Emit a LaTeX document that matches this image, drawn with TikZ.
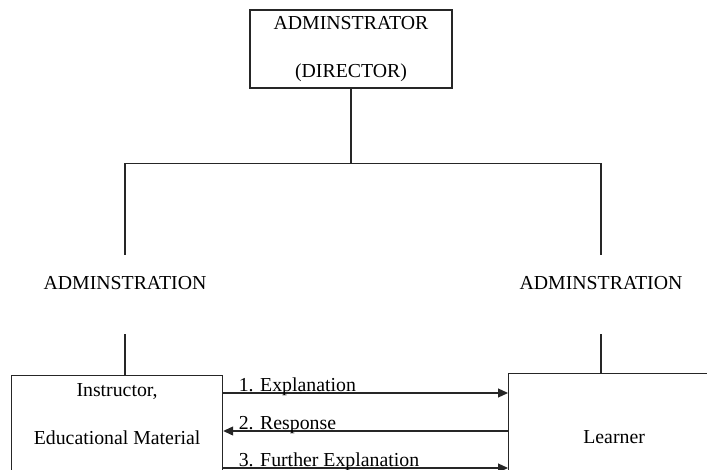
\documentclass[tikz,border=0pt]{standalone}
\usepackage{fontspec}
\setmainfont{Liberation Serif}
\usetikzlibrary{arrows.meta,calc}
\begin{document}
\begin{tikzpicture}[x=1pt,y=-1pt,
  every node/.style={font=\fontsize{19.8}{48}\selectfont},
  line/.style={draw=black!85,line width=1.2pt},
  boxnode/.style={line,rectangle,inner sep=0pt},
  lbl/.style={inner sep=0pt,text height=13.5pt,text depth=1pt},
  flow/.style={line,-{Triangle[length=10pt,width=9pt]}},
  flowtext/.style={inner sep=0pt,anchor=base west}]
\useasboundingbox (0,0) rectangle (707,470);
\clip (0,0) rectangle (707,470);

% administrator box
\node[boxnode,minimum width=202pt,minimum height=78pt,align=center] (top) at (351,49)
  {ADMINSTRATOR\\(DIRECTOR)};
\coordinate (j) at ([yshift=-75pt]top.south);

% the two administration branches
\node[lbl] (adl) at (125,283) {ADMINSTRATION};
\node[lbl] (adr) at (601,283) {ADMINSTRATION};

% lower boxes (they run past the lower edge)
\node[boxnode,anchor=north west,minimum width=211pt,minimum height=140pt] (lbox) at (11,375) {};
\node[align=center,inner sep=0pt] (ltext) at ($(lbox.north)+(0,39)$) {Instructor,\\Educational Material};
\node[boxnode,anchor=north west,minimum width=211pt,minimum height=140pt] (rbox) at (508,373) {};
\node[inner sep=0pt] (rtext) at ($(rbox.north)+(0,64)$) {Learner};

% hierarchy connectors
\draw[line] (top.south) -- (j);
\draw[line,shorten <=21pt,shorten >=21pt] (adl.north) |- (j) -| (adr.north);
\draw[line,shorten <=44pt] (adl.south) -- (adl.south |- lbox.north);
\draw[line,shorten <=44pt] (adr.south) -- (adr.south |- rbox.north);

% exchanges between instructor and learner
\coordinate (l1) at ([yshift=-18pt]lbox.north east);
\coordinate (l2) at ([yshift=-56pt]lbox.north east);
\coordinate (l3) at ([yshift=-93pt]lbox.north east);
\draw[flow] (l1) -- (l1 -| rbox.west)
  node[flowtext,pos=0,xshift=15pt,yshift=1.5pt] {1. Explanation};
\draw[flow] (l2 -| rbox.west) -- (l2)
  node[flowtext,pos=1,xshift=15pt,yshift=1.5pt] {2. Response};
\draw[flow] (l3) -- (l3 -| rbox.west)
  node[flowtext,pos=0,xshift=15pt,yshift=1.5pt] {3. Further Explanation};
\end{tikzpicture}
\end{document}
